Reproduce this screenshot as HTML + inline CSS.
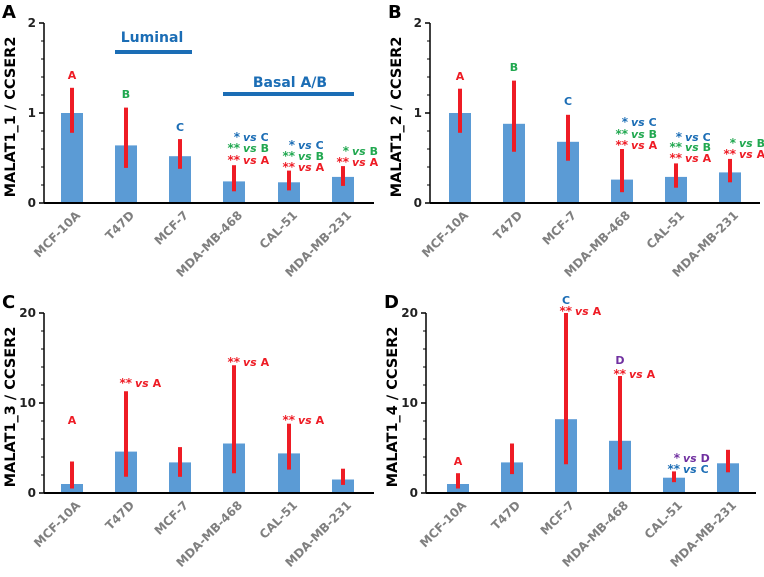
<!DOCTYPE html>
<html><head><meta charset="utf-8">
<style>
html,body{margin:0;padding:0;background:#fff;}
svg{display:block;font-family:"DejaVu Sans","Liberation Sans",sans-serif;}
</style></head>
<body>
<svg id="fig" width="764" height="577" viewBox="0 0 764 577" xmlns="http://www.w3.org/2000/svg"></svg>
<script>
const categories = ["MCF-10A","T47D","MCF-7","MDA-MB-468","CAL-51","MDA-MB-231"];
const valuesA = [1.0,0.64,0.52,0.24,0.23,0.29];
const errLowA = [0.78,0.39,0.38,0.13,0.14,0.19];
const errHighA = [1.28,1.06,0.71,0.42,0.36,0.41];
const valuesB = [1.0,0.88,0.68,0.26,0.29,0.34];
const errLowB = [0.78,0.57,0.47,0.12,0.17,0.23];
const errHighB = [1.27,1.36,0.98,0.60,0.44,0.49];
const valuesC = [1.0,4.6,3.4,5.5,4.4,1.5];
const errLowC = [0.5,1.8,1.8,2.2,2.6,0.9];
const errHighC = [3.5,11.3,5.1,14.2,7.7,2.7];
const valuesD = [1.0,3.4,8.2,5.8,1.7,3.3];
const errLowD = [0.5,2.1,3.2,2.6,1.2,2.3];
const errHighD = [2.2,5.5,20.0,13.0,2.4,4.8];
const ticksSmall = [0,1,2];
const ticksLarge = [0,10,20];

const NS="http://www.w3.org/2000/svg";
const svg=document.getElementById('fig');
const RED="#ee1c25",GREEN="#21a850",BLUE="#1b6db5",PURPLE="#7030a0";
function mk(tag,attrs,parent){const e=document.createElementNS(NS,tag);for(const k in attrs)e.setAttribute(k,attrs[k]);(parent||svg).appendChild(e);return e;}

function panel(letter,title,ax,top,bottom,xs,ymax,ticks,vals,lo,hi){
  const g=mk('g',{});
  
  
  const y=v=>bottom-(v/ymax)*(bottom-top);
  const pl=mk('text',{x:ax-42,y:top-5,'font-size':18,'font-weight':'bold',fill:'#000'},g);
  pl.textContent=letter;
  
  
  const yt=mk('text',{x:0,y:0,'font-size':14.5,'font-weight':'bold',fill:'#000','text-anchor':'middle',transform:`translate(${ax-29},${(top+bottom)/2+4}) rotate(-90)`},g);
  yt.textContent=title;
  
  
  for(let i=0;i<=10;i++){const v=ymax*i/10;mk('line',{x1:ax-3,x2:ax,y1:y(v),y2:y(v),stroke:'#000','stroke-width':1},g);}
  ticks.forEach(t=>{
    mk('line',{x1:ax-5,x2:ax,y1:y(t),y2:y(t),stroke:'#000','stroke-width':1.5},g);
    const tl=mk('text',{x:ax-8,y:y(t)+4,'font-size':12,'font-weight':'bold',fill:'#222','text-anchor':'end'},g);
    tl.textContent=t;
    
    
  });
  vals.forEach((v,i)=>{
    const cx=xs[i];
    const b=mk('rect',{x:cx-11,y:y(v),width:22,height:bottom-y(v),fill:'#5b9bd5'},g);
    
    
    const e=mk('line',{x1:cx,x2:cx,y1:y(lo[i]),y2:y(hi[i]),stroke:RED,'stroke-width':4},g);
    
    
    const cl=mk('text',{x:0,y:0,'font-size':12,'font-weight':'bold',fill:'#7f7f7f','text-anchor':'end',transform:`translate(${cx+9},${bottom+13}) rotate(-45)`},g);
    cl.textContent=categories[i];
    
    
  });
  mk('line',{x1:ax,x2:ax,y1:top,y2:bottom,stroke:'#000','stroke-width':1.5},g);
  mk('line',{x1:ax,x2:ax+330,y1:bottom,y2:bottom,stroke:'#000','stroke-width':2},g);
  return g;
}
function letterLabel(g,x,yy,txt,color){
  const t=mk('text',{x:x,y:yy,'font-size':11,'font-weight':'bold',fill:color,'text-anchor':'middle'},g);
  t.textContent=txt;
  
  
}
function sig(g,cx,yy,stars,letter,color){
  const s=mk('text',{x:cx+6,y:yy,'font-size':12,'font-weight':'bold',fill:color,'text-anchor':'end'},g);
  s.textContent=stars;
  
  
  const t=mk('text',{x:cx+9,y:yy,'font-size':11,'font-weight':'bold',fill:color},g);
  const a=mk('tspan',{'font-style':'italic'},t);a.textContent='vs ';
  const b=mk('tspan',{},t);b.textContent=letter;
  
  
}
const xsL=[72,126,180,234,289,343];
const xsR=[460,514,568,622,676,730];
const xsD=[458,512,566,620,674,728];

const gA=panel('A','MALAT1_1 / CCSER2',44,23,203,xsL,2,ticksSmall,valuesA,errLowA,errHighA);
const gB=panel('B','MALAT1_2 / CCSER2',430,23,203,xsR,2,ticksSmall,valuesB,errLowB,errHighB);
const gC=panel('C','MALAT1_3 / CCSER2',44,313,493,xsL,20,ticksLarge,valuesC,errLowC,errHighC);
const gD=panel('D','MALAT1_4 / CCSER2',426,313,493,xsD,20,ticksLarge,valuesD,errLowD,errHighD);

const lum=mk('text',{x:152,y:42,'font-size':14,'font-weight':'bold',fill:BLUE,'text-anchor':'middle'},gA);
lum.textContent='Luminal';


mk('line',{x1:115,x2:192,y1:52,y2:52,stroke:BLUE,'stroke-width':4},gA);
const bas=mk('text',{x:290,y:87,'font-size':14,'font-weight':'bold',fill:BLUE,'text-anchor':'middle'},gA);
bas.textContent='Basal A/B';


mk('line',{x1:223,x2:354,y1:94,y2:94,stroke:BLUE,'stroke-width':4},gA);

letterLabel(gA,72,79,'A',RED);letterLabel(gA,126,98,'B',GREEN);letterLabel(gA,180,131,'C',BLUE);
sig(gA,234,141,'*','C',BLUE);sig(gA,234,152,'**','B',GREEN);sig(gA,234,164,'**','A',RED);
sig(gA,289,149,'*','C',BLUE);sig(gA,289,160,'**','B',GREEN);sig(gA,289,171,'**','A',RED);
sig(gA,343,155,'*','B',GREEN);sig(gA,343,166,'**','A',RED);
letterLabel(gB,460,80,'A',RED);letterLabel(gB,514,71,'B',GREEN);letterLabel(gB,568,105,'C',BLUE);
sig(gB,622,126,'*','C',BLUE);sig(gB,622,138,'**','B',GREEN);sig(gB,622,149,'**','A',RED);
sig(gB,676,141,'*','C',BLUE);sig(gB,676,151,'**','B',GREEN);sig(gB,676,162,'**','A',RED);
sig(gB,730,147,'*','B',GREEN);sig(gB,730,158,'**','A',RED);
letterLabel(gC,72,424,'A',RED);
sig(gC,126,387,'**','A',RED);sig(gC,234,366,'**','A',RED);sig(gC,289,424,'**','A',RED);
letterLabel(gD,458,465,'A',RED);
letterLabel(gD,566,304,'C',BLUE);sig(gD,566,315,'**','A',RED);
letterLabel(gD,620,364,'D',PURPLE);sig(gD,620,378,'**','A',RED);
sig(gD,674,462,'*','D',PURPLE);sig(gD,674,473,'**','C',BLUE);
</script>
</body></html>
